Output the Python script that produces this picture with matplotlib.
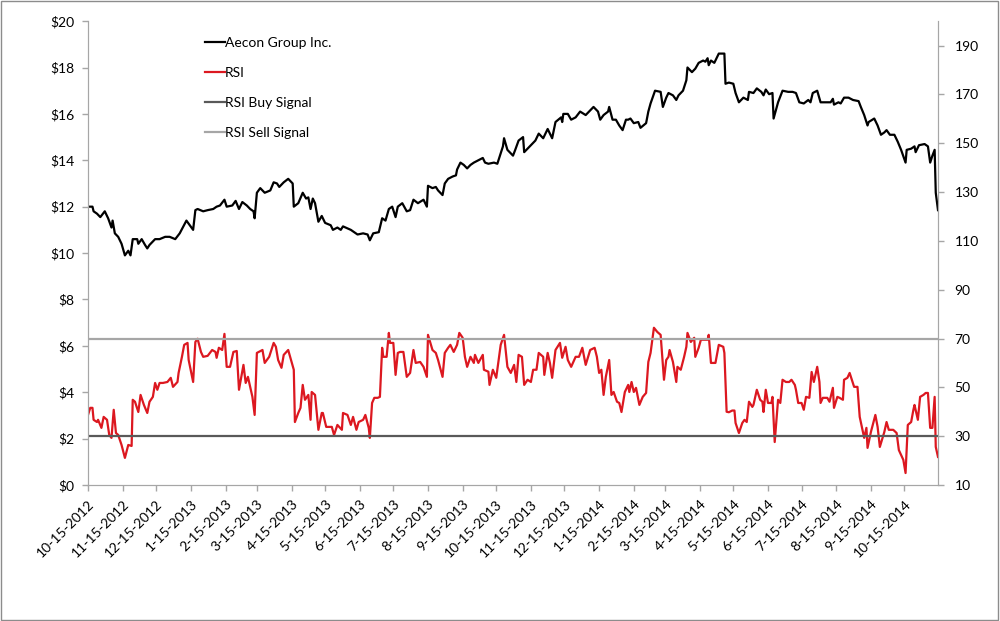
import pandas as pd
import matplotlib.pyplot as plt
import matplotlib.dates as mdates
from matplotlib.ticker import FuncFormatter
from matplotlib.patches import Rectangle

# first date on the axis, data days are counted from here
START = pd.Timestamp("2012-10-15")
END = pd.Timestamp("2014-11-14")

# Aecon Group Inc. closing price ($)
price_day = [0, 4, 5, 8, 11, 15, 18, 21, 22, 24,
             27, 30, 33, 36, 38, 40, 44, 45, 48, 51,
             53, 55, 60, 64, 69, 73, 78, 82, 88, 91,
             94, 96, 98, 103, 107, 112, 115, 118, 122, 124,
             129, 132, 135, 138, 142, 145, 148, 149, 151, 154,
             158, 163, 166, 169, 171, 175, 179, 183, 184, 188,
             192, 195, 197, 199, 201, 203, 206, 209, 212, 217,
             219, 223, 226, 228, 235, 241, 246, 250, 252, 255,
             260, 263, 266, 269, 272, 275, 277, 281, 285, 288,
             291, 295, 300, 303, 304, 308, 311, 313, 317, 319,
             322, 326, 329, 330, 333, 336, 339, 342, 345, 349,
             353, 355, 358, 363, 366, 369, 371, 372, 375, 380,
             382, 385, 389, 390, 393, 398, 400, 403, 407, 411,
             415, 418, 423, 424, 425, 429, 432, 436, 440, 445,
             449, 452, 456, 458, 461, 465, 466, 469, 472, 475,
             478, 481, 483, 485, 488, 492, 494, 499, 501, 503,
             507, 512, 514, 517, 519, 523, 526, 528, 532, 535,
             536, 540, 543, 546, 550, 552, 554, 555, 557, 560,
             564, 569, 570, 573, 577, 579, 582, 586, 590, 591,
             595, 598, 602, 604, 606, 609, 612, 613, 617, 621,
             626, 630, 633, 636, 640, 644, 646, 648, 652, 655,
             660, 664, 666, 667, 671, 673, 676, 680, 684, 689,
             691, 694, 697, 698, 703, 706, 709, 712, 714, 717,
             721, 724, 727, 731, 732, 736, 739, 740, 743, 748,
             751, 753, 755, 757, 758, 760]
price = [12.0, 12.0, 11.8, 11.7, 11.55, 11.8, 11.5, 11.1, 11.4, 10.85,
         10.7, 10.4, 9.9, 10.1, 9.9, 10.6, 10.6, 10.4, 10.6, 10.35,
         10.2, 10.35, 10.6, 10.6, 10.7, 10.7, 10.6, 10.85, 11.4, 11.2,
         11.0, 11.85, 11.9, 11.8, 11.85, 11.9, 12.0, 12.05, 12.3, 12.0,
         12.05, 12.25, 11.9, 12.2, 12.05, 11.9, 11.8, 11.5, 12.6, 12.8,
         12.6, 12.7, 13.05, 13.0, 12.85, 13.05, 13.2, 13.0, 12.0, 12.15,
         12.6, 12.35, 12.4, 11.9, 12.35, 12.15, 11.35, 11.6, 11.3, 11.2,
         11.0, 11.1, 11.0, 11.15, 11.0, 10.8, 10.85, 10.8, 10.55, 10.85,
         10.9, 11.5, 11.4, 11.9, 12.0, 11.55, 12.0, 12.15, 11.8, 11.85,
         12.3, 12.15, 12.3, 12.0, 12.9, 12.8, 12.85, 12.7, 12.5, 13.0,
         13.2, 13.3, 13.35, 13.6, 13.9, 13.8, 13.65, 13.8, 13.9, 14.0,
         14.1, 13.9, 13.85, 13.9, 13.85, 14.3, 14.6, 14.95, 14.45, 14.2,
         14.45, 14.85, 15.0, 14.35, 14.5, 14.75, 14.85, 15.15, 14.95, 15.35,
         14.95, 15.65, 15.85, 15.65, 16.0, 16.0, 15.75, 15.85, 16.1, 15.95,
         16.15, 16.3, 16.1, 15.75, 15.95, 16.1, 16.3, 15.75, 15.75, 15.5,
         15.3, 15.75, 15.75, 15.8, 15.6, 15.65, 15.4, 15.6, 16.1, 16.45,
         17.0, 16.95, 16.3, 16.7, 16.9, 16.8, 16.6, 16.8, 17.0, 17.45,
         18.0, 17.8, 17.95, 18.2, 18.3, 18.25, 18.4, 18.1, 18.3, 18.2,
         18.6, 18.6, 17.3, 17.35, 17.3, 16.9, 16.5, 16.7, 16.6, 16.95,
         16.9, 17.1, 16.95, 16.8, 17.05, 16.85, 16.9, 15.8, 16.5, 17.0,
         16.95, 16.95, 16.9, 16.5, 16.45, 16.6, 16.5, 16.9, 17.0, 16.5,
         16.5, 16.5, 16.65, 16.4, 16.5, 16.45, 16.7, 16.7, 16.6, 16.55,
         16.3, 15.95, 15.5, 15.65, 15.8, 15.5, 15.1, 15.2, 15.3, 15.1,
         15.1, 14.8, 14.45, 13.9, 14.45, 14.5, 14.6, 14.35, 14.65, 14.7,
         14.6, 13.9, 14.2, 14.45, 12.6, 11.85]

# RSI (right axis)
rsi_day = [0, 2, 4, 5, 8, 9, 12, 14, 17, 19,
           21, 23, 25, 27, 30, 33, 36, 39, 40, 42,
           45, 47, 50, 53, 55, 58, 60, 62, 64, 67,
           71, 74, 76, 80, 81, 84, 86, 89, 90, 94,
           96, 98, 101, 103, 107, 111, 114, 115, 117, 120,
           122, 124, 127, 130, 133, 135, 139, 141, 143, 147,
           149, 151, 156, 158, 162, 166, 168, 170, 173, 175,
           179, 184, 185, 188, 190, 192, 194, 197, 199, 200,
           203, 206, 209, 210, 213, 218, 220, 223, 227, 228,
           232, 235, 237, 240, 242, 246, 248, 251, 252, 254,
           256, 259, 261, 263, 264, 267, 269, 270, 273, 275,
           277, 279, 282, 285, 288, 291, 293, 297, 300, 303,
           304, 308, 311, 313, 317, 319, 322, 324, 327, 330,
           332, 335, 337, 339, 342, 345, 346, 349, 353, 354,
           358, 359, 362, 365, 369, 372, 375, 378, 381, 383,
           385, 388, 390, 393, 396, 398, 401, 403, 407, 408,
           411, 413, 415, 418, 422, 424, 427, 429, 432, 436,
           439, 442, 445, 449, 453, 455, 457, 459, 461, 463,
           466, 468, 470, 473, 475, 477, 480, 483, 484, 486,
           488, 490, 493, 496, 499, 501, 503, 506, 509, 512,
           515, 517, 519, 520, 523, 526, 527, 530, 533, 535,
           536, 539, 542, 543, 546, 548, 551, 554, 555, 557,
           561, 564, 568, 569, 571, 573, 576, 578, 579, 582,
           585, 587, 589, 591, 594, 595, 598, 601, 603, 604,
           606, 608, 611, 612, 614, 617, 619, 621, 624, 627,
           629, 632, 633, 635, 638, 640, 642, 645, 647, 649,
           652, 654, 655, 657, 661, 663, 666, 667, 670, 672,
           675, 676, 679, 681, 685, 688, 690, 694, 696, 697,
           700, 704, 706, 708, 712, 714, 716, 720, 723, 725,
           729, 731, 733, 736, 738, 739, 742, 744, 747, 749,
           751, 753, 755, 757, 758, 760]
rsi = [38.7, 41.6, 41.6, 36.7, 35.8, 36.7, 33.4, 37.9, 36.7, 30.5,
       29.3, 40.8, 31.3, 30.5, 26.4, 21.1, 26.4, 26.0, 44.9, 44.1,
       39.9, 46.9, 42.8, 39.5, 44.1, 46.1, 51.8, 49.0, 51.8, 51.8,
       52.2, 53.9, 50.2, 52.2, 55.9, 62.5, 67.4, 68.2, 61.2, 52.2,
       68.6, 69.9, 64.5, 62.5, 62.9, 65.3, 64.5, 62.1, 66.2, 65.3,
       71.9, 58.4, 58.4, 64.5, 64.9, 49.0, 59.2, 51.8, 54.3, 46.1,
       38.7, 64.1, 65.3, 60.0, 62.5, 68.2, 66.6, 61.2, 58.0, 63.3,
       65.3, 57.2, 35.8, 39.5, 41.6, 51.0, 44.9, 46.9, 36.7, 48.1,
       46.9, 32.6, 39.5, 39.5, 33.8, 33.8, 30.5, 34.6, 32.6, 39.5,
       38.7, 34.6, 37.9, 32.6, 35.8, 36.7, 38.7, 33.4, 29.3, 43.6,
       45.7, 45.7, 46.1, 66.2, 62.5, 62.5, 72.3, 68.2, 68.2, 55.1,
       64.1, 64.5, 64.5, 54.3, 55.9, 65.3, 60.0, 60.4, 58.4, 54.3,
       71.5, 65.3, 64.1, 61.2, 54.3, 64.1, 66.2, 67.4, 64.5, 67.4,
       72.3, 70.3, 62.5, 58.4, 62.5, 60.0, 63.3, 60.0, 63.3, 57.2,
       56.4, 51.0, 57.2, 53.9, 67.4, 71.5, 58.4, 55.9, 59.2, 52.2,
       63.3, 62.5, 51.0, 53.1, 52.2, 57.2, 57.2, 64.1, 62.5, 55.1,
       64.1, 60.0, 53.9, 65.3, 68.2, 62.1, 66.6, 61.2, 58.4, 62.5,
       62.5, 66.2, 59.2, 65.3, 66.2, 62.5, 55.9, 57.2, 46.9, 54.3,
       61.2, 46.9, 48.1, 44.1, 43.6, 39.9, 48.1, 51.0, 48.1, 52.2,
       48.1, 49.8, 42.8, 46.1, 47.7, 60.4, 64.1, 74.4, 72.7, 71.5,
       53.1, 61.2, 62.5, 65.3, 60.4, 52.2, 58.4, 57.2, 62.5, 66.6,
       72.3, 68.6, 70.3, 62.5, 66.2, 69.5, 69.5, 69.5, 71.5, 60.0,
       60.0, 67.4, 66.6, 64.1, 40.0, 39.8, 40.5, 40.5, 35.4, 31.3,
       35.4, 36.7, 35.8, 44.1, 42.0, 42.8, 49.0, 44.9, 44.1, 39.9,
       49.0, 43.6, 43.6, 46.1, 27.6, 44.9, 43.6, 53.1, 52.2, 52.2,
       53.1, 51.0, 49.0, 43.6, 43.6, 40.8, 46.1, 45.7, 56.3, 52.2,
       58.4, 52.2, 43.6, 45.7, 45.7, 44.1, 49.8, 41.6, 46.1, 45.7,
       44.9, 53.1, 53.9, 55.9, 50.2, 50.2, 37.9, 29.3, 33.4, 25.2,
       31.7, 38.7, 33.8, 25.6, 31.7, 35.8, 32.6, 32.6, 31.3, 24.3,
       20.3, 14.9, 34.6, 35.8, 40.8, 42.8, 36.7, 46.1, 46.9, 47.7,
       47.7, 33.4, 33.4, 46.1, 25.6, 21.5]

buy_level = 30
sell_level = 70

price_dates = START + pd.to_timedelta(price_day, unit="D")
rsi_dates = START + pd.to_timedelta(rsi_day, unit="D")

plt.rcParams['font.family'] = ['Lato', 'DejaVu Sans']
plt.rcParams['font.size'] = 10

fig = plt.figure(figsize=(10, 6.21), dpi=100)
ax = fig.add_axes([0.088, 0.219, 0.85, 0.747])
ax2 = ax.twinx()

l1, = ax.plot(price_dates, price, color="black", lw=1.6, label="Aecon Group Inc.")
l2, = ax2.plot(rsi_dates, rsi, color="#dc1820", lw=1.6, label="RSI")
l3, = ax2.plot([rsi_dates[0], rsi_dates[-1]], [buy_level, buy_level],
               color="#595959", lw=1.6, label="RSI Buy Signal")
l4, = ax2.plot([rsi_dates[0], rsi_dates[-1]], [sell_level, sell_level],
               color="#a6a6a6", lw=1.6, label="RSI Sell Signal")

ax.set_xlim(START, END)
ax.set_ylim(0, 20)
ax.set_yticks(range(0, 21, 2))
ax.yaxis.set_major_formatter(FuncFormatter(lambda v, p: f"${v:.0f}"))
ax2.set_ylim(10, 200)
ax2.set_yticks(range(10, 200, 20))

ax.xaxis.set_major_locator(mdates.MonthLocator(bymonthday=15))
ax.xaxis.set_major_formatter(
    FuncFormatter(lambda v, p: (lambda d: f"{d.month}-{d.day}-{d.year}")(mdates.num2date(v))))
for lab in ax.get_xticklabels():
    lab.set_rotation(45)
    lab.set_ha("right")
    lab.set_rotation_mode("anchor")

for a in (ax, ax2):
    for s in a.spines.values():
        s.set_color("#a6a6a6")
    a.spines["top"].set_visible(False)
    a.tick_params(colors="#a6a6a6", labelcolor="black", length=4, width=1, labelsize=10)
ax.tick_params(axis="y", pad=6)
ax2.tick_params(axis="y", pad=8)
ax.tick_params(axis="x", pad=5)

ax.legend(handles=[l1, l2, l3, l4], loc="upper left", bbox_to_anchor=(0.198, 0.952),
          bbox_transform=fig.transFigure, frameon=False, handlelength=1.45,
          handletextpad=0.0, labelspacing=1.3, borderpad=0, fontsize=10)

# chart area border
fig.patches.append(Rectangle((0.001, 0.001), 0.997, 0.997, transform=fig.transFigure,
                             fill=False, edgecolor="#8c8c8c", lw=1))

plt.savefig("out.png", dpi=100)
